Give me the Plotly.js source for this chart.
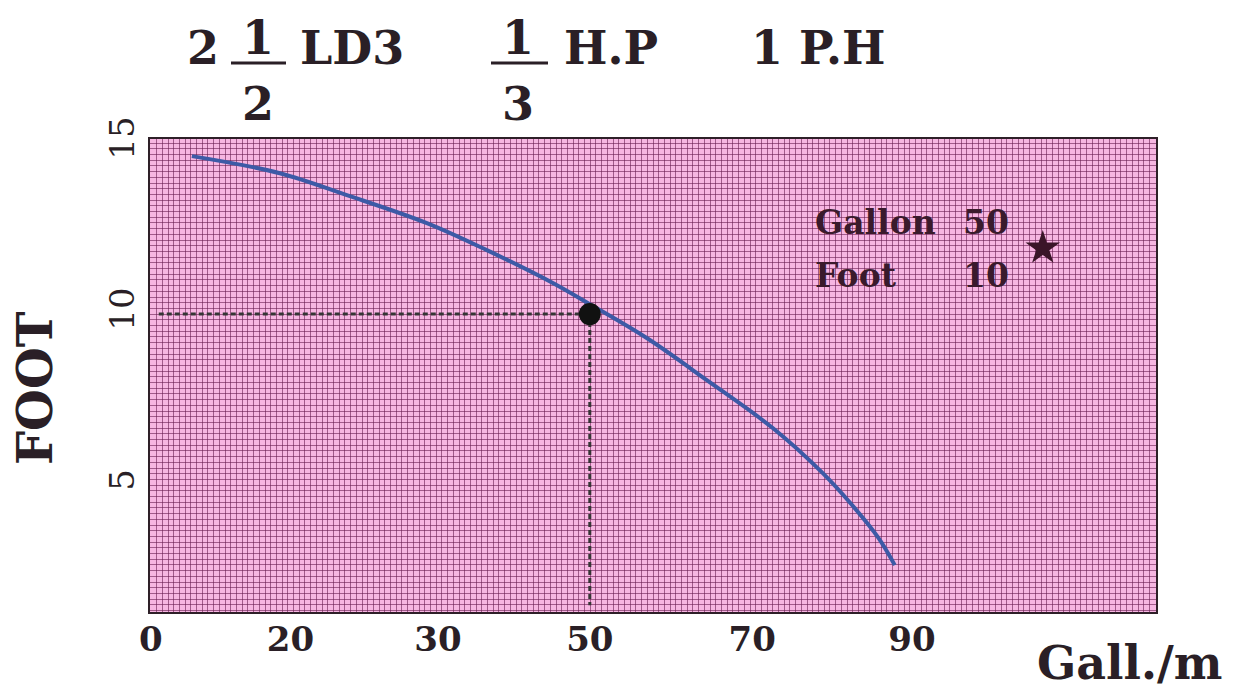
<!DOCTYPE html>
<html><head><meta charset="utf-8">
<script src="https://cdn.plot.ly/plotly-3.0.1.min.js"></script>
<style>html,body{margin:0;padding:0;background:#fff}</style>
</head><body><div id="chart" style="width:1236px;height:692px"></div>
<script>
// pump curve readings (axis units calibrated so that the "0" and "50" labels match)
const flowGpm = [4.67, 14.69, 22.32, 31.44, 38.27, 45.79, 50.0, 56.49, 63.33, 70.84, 76.54, 80.0, 82.9, 84.74];
const headFt  = [14.62, 14.12, 13.48, 12.66, 11.87, 10.91, 10.29, 9.30, 8.07, 6.67, 5.35, 4.38, 3.45, 2.66];
const dutyFlow = [50];
const dutyHead = [10];
const starX = [101.6];
const starY = [11.93];
const xTickVals = [0, 15.9, 32.7, 50, 68.5, 86.7];
const xTickText = ['0', '20', '30', '50', '70', '90'];
const yTickVals = [5, 10, 15];
const yTickText = ['5', '10', '15'];
const noteLabels = ['Gallon', 'Foot'];
const noteValues = ['50', '10'];
const noteY = [12.69, 11.14];

const xRange = [-0.1, 114.5];
const yRange = [1.29, 15.12];
const FONT = 'DejaVu Serif, Liberation Serif, serif';
const INK = '#2a1f26';
const gridCol = 'rgba(105,28,82,0.6)';

const traces = [
  {x: flowGpm, y: headFt, mode: 'lines', line: {color: '#3d5aa6', width: 4, shape: 'spline', smoothing: 1}, hoverinfo: 'skip'},
  {x: [xRange[0] + 1, dutyFlow[0]], y: [dutyHead[0], dutyHead[0]], mode: 'lines', line: {color: '#353535', width: 3, dash: '5px,3px'}},
  {x: [dutyFlow[0], dutyFlow[0]], y: [dutyHead[0], yRange[0] + 0.2], mode: 'lines', line: {color: '#353535', width: 3, dash: '5px,3px'}},
  {x: dutyFlow, y: dutyHead, mode: 'markers', marker: {color: '#111', size: 22}},
  {x: starX, y: starY, mode: 'markers', marker: {color: '#3a1528', size: 26, symbol: 'star'}}
];

const annotations = [];
noteLabels.forEach((t, i) => {
  annotations.push({x: 75.4, y: noteY[i], xref: 'x', yref: 'y', text: t, showarrow: false, xanchor: 'left', yanchor: 'middle',
    font: {family: FONT, size: 33, weight: 'bold', color: '#3a1a2c'}});
  annotations.push({x: 98.0, y: noteY[i], xref: 'x', yref: 'y', text: noteValues[i], showarrow: false, xanchor: 'right', yanchor: 'middle',
    font: {family: FONT, size: 33, weight: 'bold', color: '#3a1a2c'}});
});

// title pieces (pixel -> paper)
const px = p => (p - 150) / 1006;
const py = p => (612 - p) / 473;
const tFont = {family: FONT, size: 46, weight: 'bold', color: INK};
const titleParts = [
  ['2', 203, 48], ['1', 258, 38], ['2', 258, 104], ['LD3', 352, 48],
  ['1', 518, 38], ['3', 518, 104], ['H.P', 611, 48], ['1 P.H', 818, 48]
];
titleParts.forEach(p => annotations.push({x: px(p[1]), y: py(p[2]), xref: 'paper', yref: 'paper', text: p[0], showarrow: false,
  xanchor: 'center', yanchor: 'middle', font: tFont}));
annotations.push({x: px(1130), y: py(663), xref: 'paper', yref: 'paper', text: 'Gall./m', showarrow: false,
  xanchor: 'center', yanchor: 'middle', font: {family: FONT, size: 46, weight: 'bold', color: INK}});
annotations.push({x: px(35), y: py(388), xref: 'paper', yref: 'paper', text: 'FOOT', showarrow: false, textangle: -90,
  xanchor: 'center', yanchor: 'middle', font: {family: FONT, size: 48, weight: 'bold', color: INK}});

const shapes = [
  {type: 'line', xref: 'paper', yref: 'paper', x0: px(231), x1: px(286), y0: py(63), y1: py(63), line: {color: INK, width: 3}},
  {type: 'line', xref: 'paper', yref: 'paper', x0: px(491), x1: px(548), y0: py(63), y1: py(63), line: {color: INK, width: 3}}
];

const layout = {
  width: 1236, height: 692,
  margin: {l: 150, r: 80, t: 139, b: 80},
  paper_bgcolor: '#ffffff', plot_bgcolor: '#f7b6e2',
  showlegend: false,
  xaxis: {range: xRange, tickmode: 'array', tickvals: xTickVals, ticktext: xTickText, showgrid: false, zeroline: false,
    showline: true, mirror: true, linecolor: '#2e2028', linewidth: 2, ticks: '', ticklabelstandoff: -4,
    tickfont: {family: FONT, size: 34, weight: 'bold', color: INK},
    minor: {tickmode: 'linear', tick0: 0, dtick: 0.65, showgrid: true, gridcolor: gridCol, gridwidth: 1, ticks: ''}},
  yaxis: {range: yRange, tickmode: 'array', tickvals: yTickVals, ticktext: yTickText, showgrid: false, zeroline: false,
    showline: true, mirror: true, linecolor: '#2e2028', linewidth: 2, ticks: '', tickangle: -90,
    tickfont: {family: FONT, size: 34, color: INK},
    minor: {tickmode: 'linear', tick0: 0, dtick: 1/6, showgrid: true, gridcolor: gridCol, gridwidth: 1, ticks: ''}},
  annotations: annotations,
  shapes: shapes
};

Plotly.newPlot('chart', traces, layout, {displayModeBar: false, staticPlot: true});
</script>
</body></html>
